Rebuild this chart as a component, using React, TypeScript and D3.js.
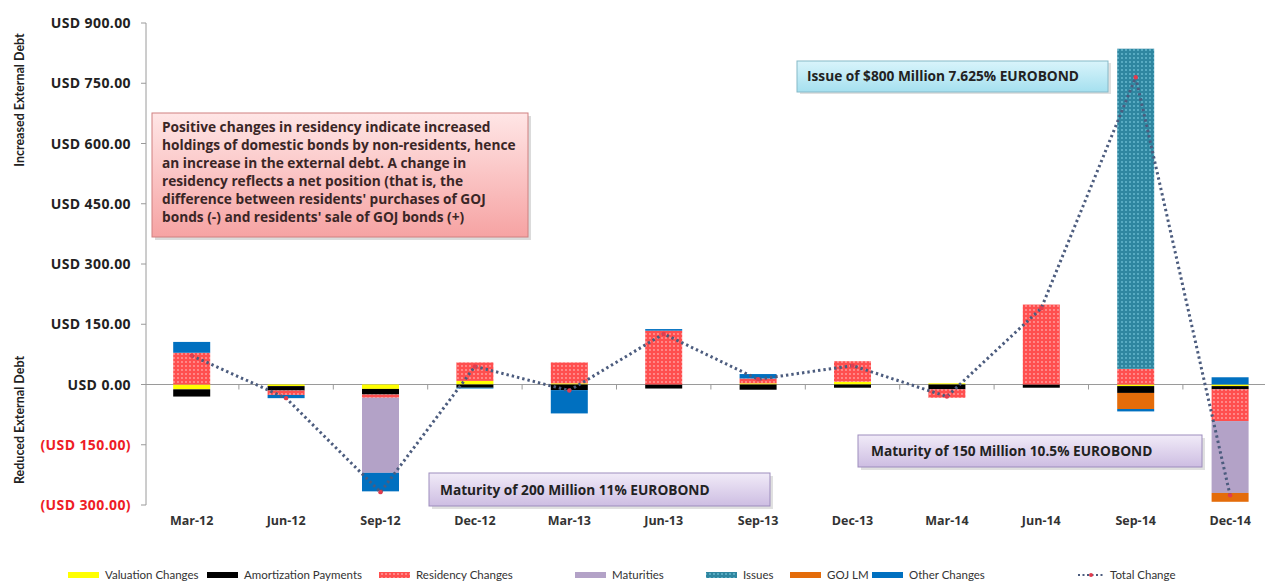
import React from "react";
import * as d3 from "d3";

const W = 1265;
const H = 581;

const categories = ["Mar-12", "Jun-12", "Sep-12", "Dec-12", "Mar-13", "Jun-13", "Sep-13", "Dec-13", "Mar-14", "Jun-14", "Sep-14", "Dec-14"];
const valuation = [-12, -4, -11, 9, 3, 0, 3, 7, 3, 0, -4, -4];
const amortization = [-18, -11, -14, -8, -14, -10, -13, -8, -12, -8, -17, -8];
const residency = [79, -11, -8, 46, 52, 134, 12, 51, -21, 199, 39, -79];
const maturities = [0, 0, -187, 0, 0, 0, 0, 0, 0, 0, 0, -179];
const issues = [0, 0, 0, 0, 0, 0, 0, 0, 0, 0, 797, 0];
const gojLM = [0, 0, 0, 0, 0, 0, 0, 0, 0, 0, -40, -22];
const other = [27, -8, -46, -2, -58, 4, 11, 0, 0, 0, -6, 18];
const total = [72, -34, -268, 45, -15, 126, 13, 47, -30, 190, 765, -276];
const yTicks = [-300, -150, 0, 150, 300, 450, 600, 750, 900];

const seriesNames = ["Valuation Changes", "Amortization Payments", "Residency Changes", "Maturities", "Issues", "GOJ LM", "Other Changes"];
const seriesKeys = ["valuation", "amortization", "residency", "maturities", "issues", "gojLM", "other"];
const seriesFill: Record<string, string> = {
  valuation: "#ffff00",
  amortization: "#000000",
  residency: "url(#patRes)",
  maturities: "#b3a2c7",
  issues: "url(#patIss)",
  gojLM: "#e46c0a",
  other: "#0070c0",
};

const noteLines = [
  "Positive changes in residency indicate increased",
  "holdings of domestic bonds by  non-residents, hence",
  "an increase in the external debt. A change in",
  "residency reflects a net position (that is, the",
  "difference between residents' purchases of GOJ",
  "bonds (-) and residents' sale of GOJ bonds (+)",
];

const legendX = [68, 207, 379, 575, 706, 790, 872];

export default function App() {
  const x = d3
    .scaleBand<string>()
    .domain(categories)
    .range([144.5, 144.5 + 94.4 * 12])
    .paddingInner(0.608)
    .paddingOuter(0.304);
  const y = d3.scaleLinear().domain([-300, 900]).range([505, 23]);
  const bw = x.bandwidth();

  const rows = categories.map((c, i) => ({
    cat: c,
    valuation: valuation[i],
    amortization: amortization[i],
    residency: residency[i],
    maturities: maturities[i],
    issues: issues[i],
    gojLM: gojLM[i],
    other: other[i],
  }));
  const stacked = d3.stack<any>().keys(seriesKeys).offset(d3.stackOffsetDiverging)(rows);

  const line = d3
    .line<number>()
    .x((_, i) => (x(categories[i]) as number) + bw / 2)
    .y((d) => y(d));

  const fmt = d3.format(".2f");
  const tickLabel = (v: number) => (v < 0 ? `(USD ${fmt(-v)})` : `USD ${fmt(v)}`);

  const axisX = 146;
  const labelFont = "'Open Sans', sans-serif";
  const boxFont = "'Open Sans', sans-serif";
  const sideFont = "Lato, 'Open Sans', sans-serif";
  const boxSize = 13.7;

  return (
    <div style={{ position: "fixed", left: 0, top: 0 }}>
      <svg width={W} height={H} style={{ display: "block", background: "#fff" }}>
        <defs>
          <pattern id="patRes" width="4" height="4" patternUnits="userSpaceOnUse">
            <rect width="4" height="4" fill="#ff4f4f" />
            <circle cx="2" cy="2" r="0.9" fill="#ffa3a3" />
          </pattern>
          <pattern id="patIss" width="4" height="4" patternUnits="userSpaceOnUse">
            <rect width="4" height="4" fill="#2f86a0" />
            <circle cx="2" cy="2" r="0.9" fill="#6cbdd3" />
          </pattern>
          <linearGradient id="gPink" x1="0" y1="0" x2="0" y2="1">
            <stop offset="0" stopColor="#ffe6e6" />
            <stop offset="1" stopColor="#f6a3a3" />
          </linearGradient>
          <linearGradient id="gBlue" x1="0" y1="0" x2="0" y2="1">
            <stop offset="0" stopColor="#d9f4fb" />
            <stop offset="1" stopColor="#a5e0ef" />
          </linearGradient>
          <linearGradient id="gLav" x1="0" y1="0" x2="0" y2="1">
            <stop offset="0" stopColor="#f1ebf8" />
            <stop offset="1" stopColor="#cdbde2" />
          </linearGradient>
        </defs>

        {/* axis titles */}
        <text transform="translate(24,100) rotate(-90)" textAnchor="middle" fontFamily={sideFont} fontWeight={700} fontSize={12.5} fill="#222">
          Increased External Debt
        </text>
        <text transform="translate(24,420) rotate(-90)" textAnchor="middle" fontFamily={sideFont} fontWeight={700} fontSize={12.5} fill="#222">
          Reduced External Debt
        </text>

        {/* y axis */}
        <line x1={axisX} x2={axisX} y1={y(900)} y2={y(-300)} stroke="#9a9a9a" strokeWidth={1} />
        {yTicks.map((v) => (
          <g key={v}>
            <line x1={axisX - 5} x2={axisX} y1={y(v)} y2={y(v)} stroke="#9a9a9a" />
            <text x={131} y={y(v) + 5} textAnchor="end" fontFamily={labelFont} fontWeight={700} fontSize={14} letterSpacing={0.4} fill={v < 0 ? "#ee1c25" : "#222"}>
              {tickLabel(v)}
            </text>
          </g>
        ))}

        {/* zero line */}
        <line x1={axisX} x2={W} y1={y(0)} y2={y(0)} stroke="#9a9a9a" />
        {categories.map((c, i) => (
          <line key={c} x1={144.5 + 94.4 * (i + 1)} x2={144.5 + 94.4 * (i + 1)} y1={y(0)} y2={y(0) + 5} stroke="#9a9a9a" />
        ))}

        {/* bars */}
        {stacked.map((s) => (
          <g key={s.key} fill={seriesFill[s.key]}>
            {s.map((d, i) =>
              d[1] - d[0] === 0 ? null : (
                <rect key={i} x={x(categories[i])} width={bw} y={y(Math.max(d[0], d[1]))} height={Math.abs(y(d[0]) - y(d[1]))} />
              )
            )}
          </g>
        ))}

        {/* x labels */}
        {categories.map((c) => (
          <text key={c} x={(x(c) as number) + bw / 2} y={525} textAnchor="middle" fontFamily={labelFont} fontWeight={700} fontSize={12.5} fill="#333">
            {c}
          </text>
        ))}

        {/* total line */}
        <path d={line(total) || ""} fill="none" stroke="#4c5c7e" strokeWidth={3} strokeDasharray="2.4 3" />
        {total.map((v, i) => (
          <circle key={i} cx={(x(categories[i]) as number) + bw / 2} cy={y(v)} r={2.2} fill="#e23c4e" />
        ))}

        {/* note box */}
        <rect x={155} y={116} width={376} height={124} fill="#999" opacity={0.35} />
        <rect x={152} y={113} width={376} height={124} fill="url(#gPink)" stroke="#d08080" strokeWidth={1} />
        {noteLines.map((t, i) => (
          <text key={i} x={162} y={131.5 + i * 18} fontFamily={boxFont} fontWeight={700} fontSize={boxSize} fill="#3a2626">
            {t}
          </text>
        ))}

        {/* issue box */}
        <rect x={800} y={63} width={311} height={31} fill="#999" opacity={0.3} />
        <rect x={797} y={61} width={311} height={31} fill="url(#gBlue)" stroke="#86b9c8" />
        <text x={807} y={81} fontFamily={boxFont} fontWeight={700} fontSize={boxSize} fill="#222">
          Issue of $800  Million 7.625% EUROBOND
        </text>

        {/* maturity 200 */}
        <rect x={432} y={476} width={341} height={33} fill="#999" opacity={0.3} />
        <rect x={429} y={473} width={341} height={33} fill="url(#gLav)" stroke="#9d8dbd" />
        <text x={440} y={495} fontFamily={boxFont} fontWeight={700} fontSize={boxSize} fill="#222">
          Maturity of 200  Million 11% EUROBOND
        </text>

        {/* maturity 150 */}
        <rect x={861} y={438} width={344} height={32} fill="#999" opacity={0.3} />
        <rect x={858} y={435} width={344} height={32} fill="url(#gLav)" stroke="#9d8dbd" />
        <text x={871} y={456} fontFamily={boxFont} fontWeight={700} fontSize={boxSize} fill="#222">
          Maturity of 150  Million 10.5% EUROBOND
        </text>

        {/* legend */}
        {seriesKeys.map((k, i) => (
          <g key={k}>
            <rect x={legendX[i]} y={572} width={31} height={6} fill={seriesFill[k]} />
            <text x={legendX[i] + 37} y={579} fontFamily={sideFont} fontSize={11.5} fill="#333">
              {seriesNames[i]}
            </text>
          </g>
        ))}
        <line x1={1078} x2={1105} y1={575} y2={575} stroke="#4c5c7e" strokeWidth={2} strokeDasharray="2 2.5" />
        <circle cx={1091} cy={575} r={2} fill="#e23c4e" />
        <text x={1110} y={579} fontFamily={sideFont} fontSize={11.5} fill="#333">
          Total Change
        </text>
      </svg>
    </div>
  );
}
